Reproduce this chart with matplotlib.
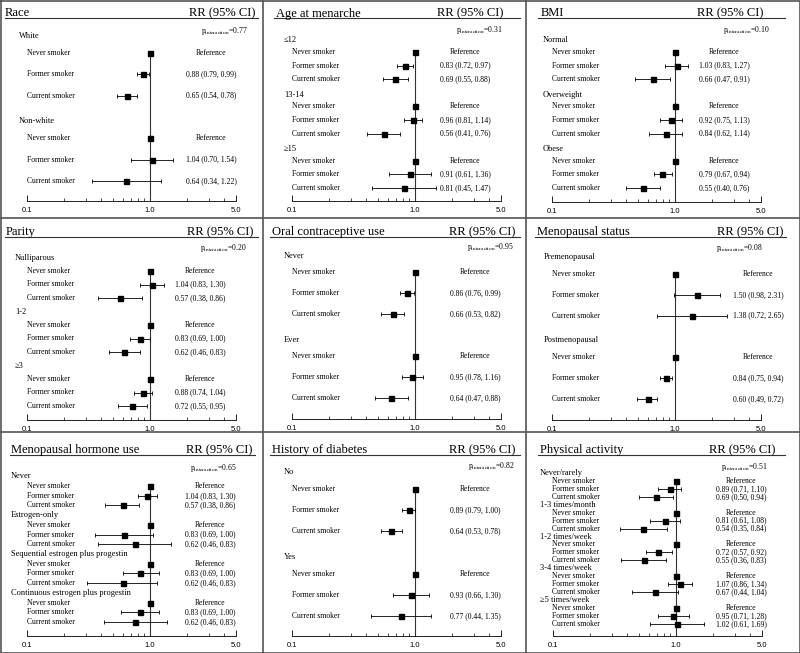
"""Forest plots: smoking status and RR by subgroup (3x3 panel grid)."""

import matplotlib
matplotlib.use("Agg")
import matplotlib.pyplot as plt
from matplotlib.lines import Line2D
from matplotlib.ticker import NullFormatter
from matplotlib.transforms import Affine2D

plt.rcParams["font.family"] = ["Liberation Serif", "DejaVu Serif"]
plt.rcParams["mathtext.fontset"] = "stix"

W, H = 800, 653
DEC_PX = 209  # pixels from 0.1 to 5.0 on every panel

ROW_LABELS = ["Never smoker", "Former smoker", "Current smoker"]

# ---- data: per subgroup, former then current smoker ----
race_groups = ["White", "Non-white"]
race_rr = [0.88, 0.65, 1.04, 0.64]
race_lo = [0.79, 0.54, 0.70, 0.34]
race_hi = [0.99, 0.78, 1.54, 1.22]

menarche_groups = ["≤12", "13-14", "≥15"]
menarche_rr = [0.83, 0.69, 0.96, 0.56, 0.91, 0.81]
menarche_lo = [0.72, 0.55, 0.81, 0.41, 0.61, 0.45]
menarche_hi = [0.97, 0.88, 1.14, 0.76, 1.36, 1.47]

bmi_groups = ["Normal", "Overweight", "Obese"]
bmi_rr = [1.03, 0.66, 0.92, 0.84, 0.79, 0.55]
bmi_lo = [0.83, 0.47, 0.75, 0.62, 0.67, 0.40]
bmi_hi = [1.27, 0.91, 1.13, 1.14, 0.94, 0.76]

parity_groups = ["Nulliparous", "1-2", "≥3"]
parity_rr = [1.04, 0.57, 0.83, 0.62, 0.88, 0.72]
parity_lo = [0.83, 0.38, 0.69, 0.46, 0.74, 0.55]
parity_hi = [1.30, 0.86, 1.00, 0.83, 1.04, 0.95]

oc_groups = ["Never", "Ever"]
oc_rr = [0.86, 0.66, 0.95, 0.64]
oc_lo = [0.76, 0.53, 0.78, 0.47]
oc_hi = [0.99, 0.82, 1.16, 0.88]

meno_groups = ["Premenopausal", "Postmenopausal"]
meno_rr = [1.50, 1.38, 0.84, 0.60]
meno_lo = [0.98, 0.72, 0.75, 0.49]
meno_hi = [2.31, 2.65, 0.94, 0.72]

hormone_groups = ["Never", "Estrogen-only", "Sequential estrogen plus progestin",
                  "Continuous estrogen plus progestin"]
hormone_rr = [0.95, 0.60, 0.62, 0.75, 0.83, 0.60, 0.83, 0.76]
hormone_lo = [0.80, 0.43, 0.36, 0.38, 0.60, 0.31, 0.58, 0.42]
hormone_hi = [1.15, 0.82, 1.05, 1.47, 1.18, 1.14, 1.18, 1.38]
hormone_text = ["1.04 (0.83, 1.30)", "0.57 (0.38, 0.86)",
                "0.83 (0.69, 1.00)", "0.62 (0.46, 0.83)",
                "0.83 (0.69, 1.00)", "0.62 (0.46, 0.83)",
                "0.83 (0.69, 1.00)", "0.62 (0.46, 0.83)"]

diabetes_groups = ["No", "Yes"]
diabetes_rr = [0.89, 0.64, 0.93, 0.77]
diabetes_lo = [0.79, 0.53, 0.66, 0.44]
diabetes_hi = [1.00, 0.78, 1.30, 1.35]

activity_groups = ["Never/rarely", "1-3 times/month", "1-2 times/week",
                   "3-4 times/week", "≥5 times/week"]
activity_rr = [0.89, 0.69, 0.81, 0.54, 0.72, 0.55, 1.07, 0.67, 0.95, 1.02]
activity_lo = [0.71, 0.50, 0.61, 0.35, 0.57, 0.36, 0.86, 0.44, 0.71, 0.61]
activity_hi = [1.10, 0.94, 1.08, 0.84, 0.92, 0.83, 1.34, 1.04, 1.28, 1.69]

titles = ["Race", "Age at menarche", "BMI", "Parity", "Oral contraceptive use",
          "Menopausal status", "Menopausal hormone use", "History of diabetes",
          "Physical activity"]
p_values = ["0.77", "0.31", "0.10", "0.20", "0.95", "0.08", "0.65", "0.82", "0.51"]

panels = [
    (race_groups, race_rr, race_lo, race_hi, None),
    (menarche_groups, menarche_rr, menarche_lo, menarche_hi, None),
    (bmi_groups, bmi_rr, bmi_lo, bmi_hi, None),
    (parity_groups, parity_rr, parity_lo, parity_hi, None),
    (oc_groups, oc_rr, oc_lo, oc_hi, None),
    (meno_groups, meno_rr, meno_lo, meno_hi, None),
    (hormone_groups, hormone_rr, hormone_lo, hormone_hi, hormone_text),
    (diabetes_groups, diabetes_rr, diabetes_lo, diabetes_hi, None),
    (activity_groups, activity_rr, activity_lo, activity_hi, None),
]

# ---- layout (pixel positions in the 800x653 image) ----
# x01, axis_y, underline_y, title_x, rr_right, ul_x0, ul_x1, pint_x, pint_y,
# sub_x, row_x, txt_x, line0, step, header_offset
LAYOUT = [
    (27, 201, 18, 5, 255, 5, 258, 248, 31, 19, 27, 211, 31.7, 21.3, 4.5),
    (292, 201, 18, 276, 503, 274, 520, 502, 30, 284, 292, 465, 38.4, 13.6, 2),
    (552, 202, 18, 541, 763, 538, 785, 770, 30, 543, 552, 724, 38.4, 13.6, 2),
    (27, 420, 237, 6, 253, 5, 258, 247, 248, 15, 27, 200, 257.5, 13.5, 1),
    (292, 419, 237, 272, 515, 270, 520, 514, 247, 284, 292, 475, 251, 21.0, 4.5),
    (552, 420, 237, 537, 783, 535, 786, 763, 248, 544, 552, 758, 253.2, 20.8, 4),
    (27, 636, 455, 11, 252, 10, 255, 237, 468, 11, 27, 210, 476.3, 9.71, 0),
    (292, 636, 455, 272, 515, 270, 520, 514, 466, 284, 292, 475, 467.8, 21.2, 4.3),
    (553, 636, 455, 540, 775, 538, 785, 767, 467, 540, 552, 741, 473, 7.94, 0),
]
CELL_TOPS = [0, 0, 0, 218, 218, 218, 432, 432, 432]

fig = plt.figure(figsize=(W / 100, H / 100), dpi=100)
PX = Affine2D().scale(1 / W, -1 / H).translate(0, 1) + fig.transFigure

for k, (groups, rr, lo, hi, text) in enumerate(panels):
    (x01, axis_y, ul_y, title_x, rr_right, ul_x0, ul_x1, pint_x, pint_y,
     sub_x, row_x, txt_x, line0, step, hoff) = LAYOUT[k]
    top = CELL_TOPS[k]

    ax = fig.add_axes([x01 / W, 1 - axis_y / H, DEC_PX / W, (axis_y - top) / H])
    ax.set_xscale("log")
    ax.set_xlim(0.1, 5)
    ax.set_ylim(axis_y, top)
    ax.patch.set_visible(False)
    for side in ["left", "right", "top"]:
        ax.spines[side].set_visible(False)
    ax.spines["bottom"].set_linewidth(0.6)
    ax.set_yticks([])
    ax.set_xticks([0.1, 1, 5])
    ax.set_xticklabels(["0.1", "1.0", "5.0"], fontfamily="Liberation Sans")
    ax.set_xticks([0.2, 0.3, 0.4, 0.5, 0.6, 0.7, 0.8, 0.9, 2, 3, 4], minor=True)
    ax.xaxis.set_minor_formatter(NullFormatter())
    ax.tick_params(axis="x", which="major", direction="in", length=4,
                   width=0.6, labelsize=5.5, pad=4)
    ax.tick_params(axis="x", which="minor", direction="in", length=2, width=0.5)

    fs_row = 5.5
    fs_sub = 6

    # title bar
    fig.text(title_x, ul_y - 1.5, titles[k], transform=PX, fontsize=9,
             ha="left", va="baseline")
    fig.text(rr_right, ul_y - 1.5, "RR (95% CI)", transform=PX, fontsize=9,
             ha="right", va="baseline")
    fig.add_artist(Line2D([ul_x0, ul_x1], [ul_y, ul_y], transform=PX,
                          color="#333333", lw=0.8))
    fig.text(pint_x, pint_y, r"p$_{\mathrm{interaction}}$=" + p_values[k],
             transform=PX, fontsize=5.5, ha="right", va="center")

    first_never = line0 + step
    ax.vlines(1.0, first_never, axis_y, color="#333333", lw=0.8, clip_on=False)

    for g, name in enumerate(groups):
        fig.text(sub_x, line0 + 4 * g * step + hoff, name, transform=PX,
                 fontsize=fs_sub, ha="left", va="center")
        for r in range(3):
            y = line0 + (4 * g + 1 + r) * step
            fig.text(row_x, y, ROW_LABELS[r], transform=PX, fontsize=fs_row,
                     ha="left", va="center")
            if r == 0:
                ax.plot(1.0, y, "s", color="black", ms=3.6, clip_on=False)
                label = "Reference"
            else:
                i = 2 * g + r - 1
                ax.errorbar(rr[i], y, xerr=[[rr[i] - lo[i]], [hi[i] - rr[i]]],
                            fmt="s", color="black", ms=3.6, elinewidth=0.6,
                            capsize=1.5, capthick=0.6, clip_on=False)
                if text is None:
                    label = f"{rr[i]:.2f} ({lo[i]:.2f}, {hi[i]:.2f})"
                else:
                    label = text[i]
            fig.text(txt_x, y, label, transform=PX, fontsize=fs_row,
                     ha="center", va="center")

# panel borders
border = dict(transform=PX, color="#555555", lw=1.2)
for x in (263, 526):
    fig.add_artist(Line2D([x, x], [0, H], **border))
for y in (218, 432):
    fig.add_artist(Line2D([0, W], [y, y], **border))
fig.add_artist(Line2D([0.5, W - 0.5, W - 0.5, 0.5, 0.5],
                      [0.5, 0.5, H - 0.5, H - 0.5, 0.5], **border))

fig.savefig("out.png", dpi=100)
plt.close(fig)
